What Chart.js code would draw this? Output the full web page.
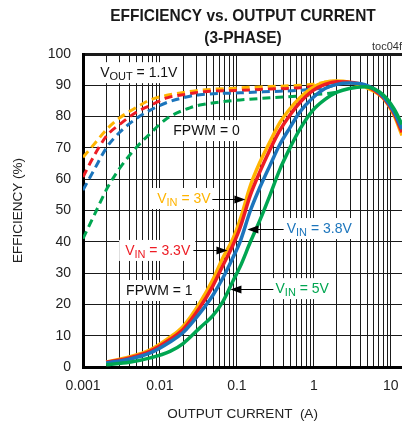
<!DOCTYPE html>
<html>
<head>
<meta charset="utf-8">
<script src="https://cdn.jsdelivr.net/npm/chart.js@4.4.1/dist/chart.umd.min.js"></script>
<style>
  body { margin: 0; background: #fff; overflow: hidden; }
</style>
</head>
<body>
<canvas id="chart" width="402" height="429"></canvas>
<script>
// output current (A)
const iSolid = [0.002, 0.004, 0.0075, 0.0135, 0.02, 0.033, 0.049, 0.066, 0.089, 0.11, 0.15, 0.2, 0.27, 0.36, 0.49, 0.66, 0.97, 1.4, 2, 2.9, 4.6, 7.9, 11, 14];
const iDashed = [0.001, 0.00143, 0.00205, 0.003, 0.005, 0.0074, 0.0123, 0.0245, 0.033, 0.11, 0.27, 0.66, 0.97, 1.4, 2];

// FPWM = 1 (solid), efficiency %
const vin3 = [1.6, 3.2, 5.5, 9.5, 13, 20.5, 28, 35, 41, 47, 58, 65.5, 72, 78, 82.5, 86, 89.3, 91, 91.4, 91, 89.5, 86, 80.5, 74];
const vin33 = [1.5, 2.9, 5.1, 8.8, 12, 19, 26, 32.5, 39, 44.5, 55, 62.5, 69.5, 75.5, 80.5, 84.5, 88.3, 90.3, 91.1, 91, 90, 86.2, 81, 75];
const vin38 = [1.3, 2.5, 4.5, 8, 11, 17.2, 23, 28.5, 35, 40, 50, 57.5, 64.5, 71, 76.5, 81.5, 86, 89, 90.3, 90.7, 90.2, 86.5, 81.5, 76];
const vin5 = [0.7, 1.5, 2.9, 5, 7.5, 12.5, 16.5, 21, 27.5, 32, 40, 47, 55, 63, 70, 76, 82, 85.5, 87.8, 89, 89.5, 87, 82.5, 77.5];

// FPWM = 0 (dashed), efficiency %
const vin3Skip = [67, 71.5, 76, 79.6, 83, 85.3, 86.8, 88, 88.4, 89.2, 89.6, 90, 90.3, 91, 91.4];
const vin33Skip = [60.7, 68, 74, 77.5, 81.5, 83.5, 86, 87.3, 87.8, 88.4, 88.8, 89.2, 89.6, 90.3, 91.1];
const vin38Skip = [56.5, 63.5, 70.3, 75, 79.5, 82, 84.5, 86.5, 87, 87.6, 88, 88.4, 88.8, 89.2, 90.3];
const vin5Skip = [41, 49, 57, 63.5, 70.3, 74.5, 79.4, 82.8, 83.7, 85.3, 86, 86.6, 87, 87.3, 87.8];

const xTickLabels = [0.001, 0.01, 0.1, 1, 10];
const yTicks = [0, 10, 20, 30, 40, 50, 60, 70, 80, 90, 100];

const ORANGE = '#FFB400', RED = '#ED1C24', BLUE = '#1C75BC', GREEN = '#00A651';
const FONT = "'Liberation Sans', Arial, sans-serif";
Chart.defaults.font.family = FONT;

// vertical grid at 1..9 of every decade
const xGrid = [];
xTickLabels.forEach((d, k) => {
  if (k === xTickLabels.length - 1) { xGrid.push(d); return; }
  for (let m = 1; m <= 9; m++) xGrid.push(+(m * d).toPrecision(3));
});

const pts = (xs, ys) => xs.map((x, i) => ({ x: x, y: ys[i] }));

function solid(data, color, order) {
  return { data: pts(iSolid, data), borderColor: color, borderWidth: 3.5, pointRadius: 0,
    cubicInterpolationMode: 'monotone', order: order };
}
function dashed(data, color, order) {
  return { data: pts(iDashed, data), borderColor: color, borderWidth: 3, borderDash: [8, 5],
    pointRadius: 0, cubicInterpolationMode: 'monotone', order: order };
}

// labels: anchor (current, efficiency) = left edge / vertical middle of text
const labels = [
  { x: 0.00167, y: 94.2, color: '#111', parts: [['V'], ['OUT', 1], [' = 1.1V']] },
  { x: 0.0149, y: 75.7, color: '#111', parts: [['FPWM = 0']] },
  { x: 0.0092, y: 54, color: ORANGE, parts: [['V'], ['IN', 1], [' = 3V']], arrow: [0.048, 0.129, 53.7] },
  { x: 0.00353, y: 37.4, color: RED, parts: [['V'], ['IN', 1], [' = 3.3V']], arrow: [0.0272, 0.0754, 37.3] },
  { x: 0.00363, y: 24.6, color: '#111', parts: [['FPWM = 1']] },
  { x: 0.444, y: 44.4, color: BLUE, parts: [['V'], ['IN', 1], [' = 3.8V']], arrow: [0.405, 0.137, 44] },
  { x: 0.318, y: 25.2, color: GREEN, parts: [['V'], ['IN', 1], [' = 5V']], arrow: [0.298, 0.0825, 24.9] }
];

function partFont(p) { return p[1] ? '11px ' + FONT : '14px ' + FONT; }
function labelWidth(ctx, parts) {
  let w = 0;
  parts.forEach(p => { ctx.font = partFont(p); w += ctx.measureText(p[0]).width; });
  return w;
}

const textPlugin = {
  id: 'textPlugin',
  beforeDatasetsDraw(chart) {
    const ctx = chart.ctx, xs = chart.scales.x, ys = chart.scales.y;
    ctx.save();
    ctx.fillStyle = '#fff';
    labels.forEach(l => {
      const px = xs.getPixelForValue(l.x), py = ys.getPixelForValue(l.y);
      const w = labelWidth(ctx, l.parts);
      ctx.fillRect(px - 6, py - 10, w + 11, 21);
    });
    ctx.restore();
  },
  afterDatasetsDraw(chart) {
    const ctx = chart.ctx, xs = chart.scales.x, ys = chart.scales.y;
    ctx.save();
    labels.forEach(l => {
      let px = xs.getPixelForValue(l.x);
      const base = ys.getPixelForValue(l.y) + 5;
      ctx.fillStyle = l.color;
      ctx.textBaseline = 'alphabetic';
      l.parts.forEach(p => {
        ctx.font = partFont(p);
        ctx.fillText(p[0], px, p[1] ? base + 3 : base);
        px += ctx.measureText(p[0]).width;
      });
      if (l.arrow) {
        const x1 = xs.getPixelForValue(l.arrow[0]), x2 = xs.getPixelForValue(l.arrow[1]);
        const y = Math.round(ys.getPixelForValue(l.arrow[2])) + 0.5;
        const dir = x2 > x1 ? 1 : -1;
        ctx.strokeStyle = '#000';
        ctx.lineWidth = 1;
        ctx.beginPath();
        ctx.moveTo(x1, y);
        ctx.lineTo(x2 - dir * 8, y);
        ctx.stroke();
        ctx.fillStyle = '#000';
        ctx.beginPath();
        ctx.moveTo(x2, y);
        ctx.lineTo(x2 - dir * 11, y - 4);
        ctx.lineTo(x2 - dir * 11, y + 4);
        ctx.closePath();
        ctx.fill();
      }
    });
    ctx.restore();
  },
  afterDraw(chart) {
    const ctx = chart.ctx;
    ctx.save();
    ctx.fillStyle = '#1a1a1a';
    ctx.textAlign = 'center';
    ctx.textBaseline = 'alphabetic';
    ctx.font = 'bold 17px ' + FONT;
    ctx.translate(243, 0);
    ctx.scale(0.91, 1);
    ctx.fillText('EFFICIENCY vs. OUTPUT CURRENT', 0, 21);
    ctx.fillText('(3-PHASE)', 0, 43);
    ctx.restore();
    ctx.save();
    ctx.fillStyle = '#333';
    ctx.font = '11px ' + FONT;
    ctx.textAlign = 'left';
    ctx.fillText('toc04f', 372, 50);
    ctx.restore();
  }
};

new Chart(document.getElementById('chart'), {
  type: 'line',
  data: {
    datasets: [
      solid(vin3, ORANGE, 4),
      solid(vin33, RED, 3),
      solid(vin38, BLUE, 2),
      solid(vin5, GREEN, 1),
      dashed(vin3Skip, ORANGE, 8),
      dashed(vin33Skip, RED, 7),
      dashed(vin38Skip, BLUE, 6),
      dashed(vin5Skip, GREEN, 5)
    ]
  },
  options: {
    responsive: false,
    animation: false,
    layout: { padding: { top: 54, right: 0, left: 0, bottom: 0 } },
    plugins: {
      legend: { display: false },
      tooltip: { enabled: false }
    },
    scales: {
      x: {
        type: 'logarithmic',
        min: 0.001,
        max: 14,
        afterBuildTicks: s => { s.ticks = xGrid.map(v => ({ value: v })); },
        afterFit: s => { s.height = 62; s.paddingRight = 0; s.paddingLeft = 0; },
        ticks: {
          autoSkip: false, maxRotation: 0, padding: 11, color: '#222', font: { size: 14 },
          callback: v => xTickLabels.includes(v) ? String(v) : ''
        },
        grid: { color: '#1a1a1a', lineWidth: 1, drawTicks: false },
        border: { color: '#000', width: 3 },
        title: { display: true, text: 'OUTPUT CURRENT  (A)', color: '#222', font: { size: 13.5 }, padding: { bottom: 7 } }
      },
      y: {
        min: 0,
        max: 100,
        afterBuildTicks: s => { s.ticks = yTicks.map(v => ({ value: v })); },
        afterFit: s => { s.width = 83; },
        ticks: { padding: 12, color: '#222', font: { size: 14 } },
        grid: { color: '#1a1a1a', drawTicks: false, lineWidth: c => c.tick && c.tick.value === 100 ? 3 : 1 },
        border: { color: '#000', width: 3 },
        title: { display: true, text: 'EFFICIENCY (%)', color: '#222', font: { size: 13.5 }, padding: { top: 10 } }
      }
    }
  },
  plugins: [textPlugin]
});
</script>
</body>
</html>
